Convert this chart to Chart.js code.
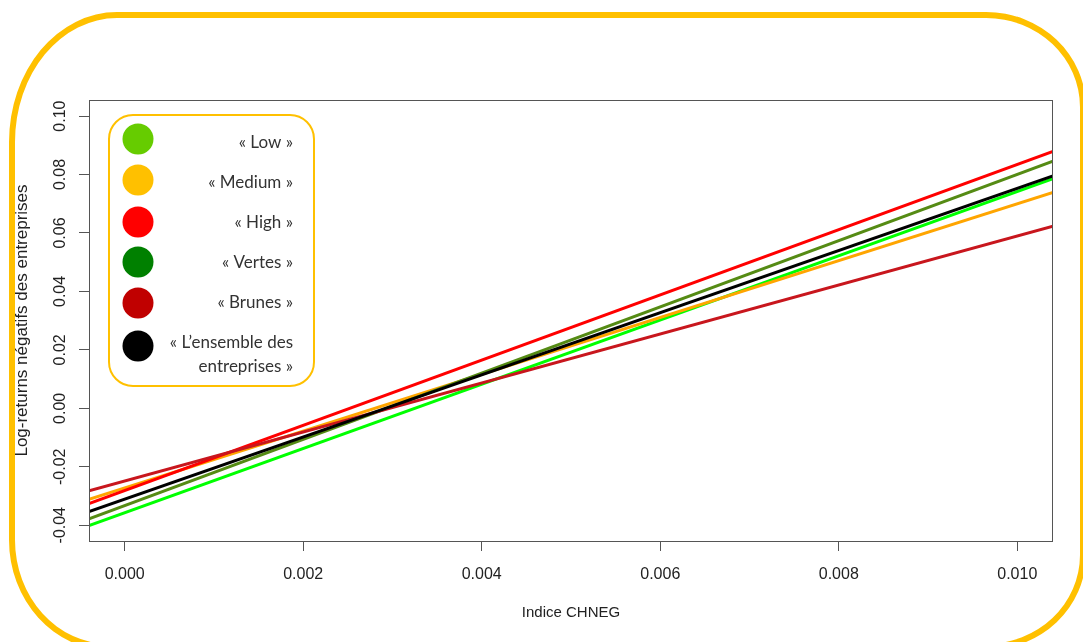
<!DOCTYPE html>
<html>
<head>
<meta charset="utf-8">
<script src="https://cdn.jsdelivr.net/npm/chart.js@4/dist/chart.umd.min.js"></script>
<style>
  html, body { margin: 0; padding: 0; background: #fff; overflow: hidden; }
  #wrap { position: relative; width: 1083px; height: 642px; overflow: hidden; }
  #frame {
    position: absolute; left: 9px; top: 12px; width: 1065px; height: 626px;
    border: 6px solid #ffc000;
    border-radius: 108px 100px 100px 100px / 130px 95px 95px 110px;
  }
  #chart { position: absolute; left: 0; top: 0; }
</style>
</head>
<body>
<div id="wrap">
  <div id="frame"></div>
  <canvas id="chart" width="1083" height="642"></canvas>
</div>
<script>
// x positions where the regression lines meet the plot border
const xEnds = [-0.0004, 0.0104];
const xTicks = [0, 0.002, 0.004, 0.006, 0.008, 0.010];
const yTicks = [-0.04, -0.02, 0.00, 0.02, 0.04, 0.06, 0.08, 0.10];

const seriesNames = ['« Low »', '« Medium »', '« High »', '« Vertes »', '« Brunes »', '« L\u2019ensemble des entreprises »'];
const lowVals = [-0.0401, 0.0786];
const mediumVals = [-0.0311, 0.0739];
const highVals = [-0.0326, 0.0879];
const vertesVals = [-0.0378, 0.0846];
const brunesVals = [-0.0282, 0.0623];
const ensembleVals = [-0.0353, 0.0795];

const lineColors = ['#00ff00', '#ffa500', '#ff0000', '#558b14', '#c8161d', '#000000'];
const dotColors = ['#66cc00', '#ffc000', '#ff0000', '#008000', '#c00000', '#000000'];

const allVals = [lowVals, mediumVals, highVals, vertesVals, brunesVals, ensembleVals];

const datasets = allVals.map((vals, i) => ({
    label: seriesNames[i],
    data: vals.map((v, k) => ({ x: xEnds[k], y: v })),
    borderColor: lineColors[i],
    borderWidth: 3,
    pointRadius: 0,
    fill: false,
    tension: 0,
    order: allVals.length - i
}));

// Frame, y tick labels, titles and legend
const decorPlugin = {
    id: 'decor',
    afterDraw(chart) {
        const ctx = chart.ctx;
        const a = chart.chartArea;
        const ys = chart.scales.y;

        ctx.save();
        // plot box
        ctx.strokeStyle = '#555';
        ctx.lineWidth = 1;
        ctx.strokeRect(a.left + 0.5, a.top + 0.5, a.right - a.left - 1, a.bottom - a.top);

        // y tick labels, rotated like R
        ctx.fillStyle = '#222';
        ctx.font = '16px "Liberation Sans", Arial, sans-serif';
        ctx.textAlign = 'center';
        ctx.textBaseline = 'middle';
        yTicks.forEach(t => {
            const py = ys.getPixelForValue(t);
            ctx.save();
            ctx.translate(61, py);
            ctx.rotate(-Math.PI / 2);
            ctx.fillText(t.toFixed(2), 0, 0);
            ctx.restore();
        });

        // axis titles
        ctx.font = '15px "Liberation Sans", Arial, sans-serif';
        ctx.fillText('Indice CHNEG', (a.left + a.right) / 2, 613);
        ctx.save();
        ctx.translate(22, (a.top + a.bottom) / 2);
        ctx.rotate(-Math.PI / 2);
        ctx.font = '17px "Liberation Sans", Arial, sans-serif';
        ctx.fillText('Log-returns négatifs des entreprises', 0, 0);
        ctx.restore();

        // legend box
        ctx.beginPath();
        ctx.roundRect(109, 115, 205, 271, 24);
        ctx.fillStyle = '#fff';
        ctx.fill();
        ctx.strokeStyle = '#ffc000';
        ctx.lineWidth = 2;
        ctx.stroke();

        const dotY = [139, 180, 222, 262, 303, 346];
        const textLines = [['« Low »'], ['« Medium »'], ['« High »'], ['« Vertes »'], ['« Brunes »'],
            ['« L\u2019ensemble des', 'entreprises »']];
        const textY = [143, 183, 223, 263, 303, 343];
        ctx.font = '17px Lato, "Open Sans", sans-serif';
        ctx.textAlign = 'right';
        textLines.forEach((lines, i) => {
            ctx.beginPath();
            ctx.arc(138, dotY[i], 15.5, 0, Math.PI * 2);
            ctx.fillStyle = dotColors[i];
            ctx.fill();
            ctx.fillStyle = '#333';
            lines.forEach((s, j) => ctx.fillText(s, 293, textY[i] + j * 24));
        });
        ctx.restore();
    }
};

new Chart(document.getElementById('chart'), {
    type: 'line',
    data: { datasets: datasets },
    options: {
        responsive: false,
        animation: false,
        layout: { padding: { top: 100, right: 30, left: 0, bottom: 0 } },
        plugins: { legend: { display: false }, tooltip: { enabled: false } },
        scales: {
            x: {
                type: 'linear',
                min: xEnds[0],
                max: xEnds[1],
                afterBuildTicks: s => { s.ticks = xTicks.map(v => ({ value: v })); },
                afterFit: s => { s.height = 101; },
                grid: { drawOnChartArea: false, tickLength: 10, color: '#555' },
                border: { display: false },
                ticks: {
                    color: '#222',
                    font: { family: '"Liberation Sans", Arial, sans-serif', size: 16 },
                    padding: 14,
                    maxRotation: 0,
                    callback: v => v.toFixed(3)
                }
            },
            y: {
                type: 'linear',
                min: -0.0454,
                max: 0.1055,
                afterBuildTicks: s => { s.ticks = yTicks.map(v => ({ value: v })); },
                afterFit: s => { s.width = 89; },
                grid: { drawOnChartArea: false, tickLength: 10, color: '#555' },
                border: { display: false },
                ticks: { display: false }
            }
        }
    },
    plugins: [decorPlugin]
});
</script>
</body>
</html>
